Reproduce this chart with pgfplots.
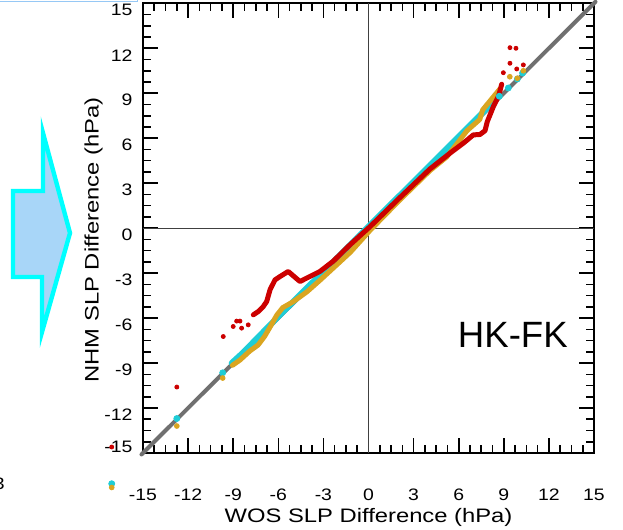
\documentclass[border=0pt]{standalone}
\usepackage{pgfplots}
\pgfplotsset{compat=1.18}
\usepackage{fontspec}
\setmainfont{Liberation Sans}
\usepackage{graphicx}
\definecolor{cy}{RGB}{30,205,215}
\definecolor{og}{RGB}{218,165,32}
\definecolor{rd}{RGB}{204,0,0}
\definecolor{dg}{RGB}{112,112,112}
\definecolor{arrowfill}{RGB}{168,214,248}
\definecolor{arrowline}{RGB}{0,255,255}
\definecolor{boxline}{RGB}{150,200,245}
\newcommand{\tfont}{\fontsize{8.3}{10}\selectfont}
\newcommand{\lfont}{\fontsize{9.75}{12}\selectfont}
\begin{document}
\begin{tikzpicture}
\useasboundingbox (0,0) rectangle (311.5pt,-265pt);
\begin{scope}[x=0.5pt,y=-0.5pt]
  \draw[boxline, line width=0.75pt] (-10,-10) rectangle (137.5,1.5);
  \draw[arrowline, line width=2.2pt, fill=arrowfill, line join=miter]
    (13,191) -- (43,191) -- (43,133) -- (70,233) -- (42,332) -- (42,277) -- (13,277) -- cycle;
  \node[anchor=east, font=\tfont, inner sep=0pt] at (5,484) {\scalebox{1.17}[1]{3}};
\end{scope}
\begin{axis}[
  at={(71.5pt,-226.5pt)}, anchor=south west,
  scale only axis, width=225.5pt, height=224.85pt,
  xmin=-15, xmax=15, ymin=-15, ymax=15,
  xtick={-15,-12,...,15}, ytick={-12,-9,...,15},
  extra y ticks={-15},
  extra y tick style={yticklabel style={yshift=6.5pt}},
  minor x tick num=3,
  minor ytick={-14.25,-13.5,-12.75,-11.25,-10.5,-9.75,-8.25,-7.5,-6.75,-5.25,-4.5,-3.75,-2.25,-1.5,-0.75,0.75,1.5,2.25,3.75,4.5,5.25,6.75,7.5,8.25,9.75,10.5,11.25,12.75,13.5,14.25},
  tick align=inside,
  major tick length=7.5pt, minor tick length=4pt,
  every tick/.style={black, line width=0.8pt},
  axis line style={line width=1pt, black},
  xtick pos=both, ytick pos=both,
  xticklabel pos=left, yticklabel pos=left,
  /pgf/number format/assume math mode=true,
  xticklabel={\scalebox{1.17}[1]{\pgfmathprintnumber{\tick}}},
  yticklabel={\scalebox{1.17}[1]{\pgfmathprintnumber{\tick}}},
  ticklabel style={font=\tfont},
  xticklabel style={anchor=center, yshift=-21pt},
  yticklabel style={anchor=east, xshift=-1.75pt, yshift=-3.5pt},
  xlabel={\scalebox{1.22}[1]{WOS SLP Difference (hPa)}},
  ylabel={\scalebox{1.22}[1]{NHM SLP Difference (hPa)}},
  label style={font=\lfont},
  xlabel style={at={([yshift=-32pt]axis description cs:0.5,0)}, anchor=center},
  ylabel style={at={([xshift=-24.75pt,yshift=-5.85pt]axis description cs:0,0.5)}, anchor=center},
  clip=false,
]
% zero lines
\addplot[black!75, line width=0.5pt] coordinates {(0,-15) (0,15)};
\addplot[black!75, line width=0.5pt] coordinates {(-15,0) (15,0)};
% one-to-one line
\addplot[dg, line width=2pt, line cap=round] coordinates {(-15.1,-15.1) (15.1,15.1)};
% cyan series
\addplot[cy, line width=3pt, line cap=round, line join=round] coordinates {
(-9.1,-9.0) (-8.5,-8.45) (-7.9,-7.85) (-6,-5.9) (-4,-3.9) (-2,-1.9) (0,0.1) (2,2.1) (4,4.1) (6,6.1) (8.3,8.4)};
\addplot[only marks, mark=*, mark size=1.5pt, cy, mark options={draw=none, fill=cy}] coordinates {
(-12.75,-12.7) (-9.7,-9.65) (8.7,8.8) (9.3,9.35) (9.9,9.95) (10.25,10.35) (-17.08,-17.05)};
% orange series
\addplot[og, line width=2.5pt, line cap=round, line join=round] coordinates {
(-9.05,-9.15) (-8.55,-8.8) (-7.9,-8.2) (-7.35,-7.8) (-6.9,-7.2) (-6.55,-6.6) (-6.1,-5.8) (-5.7,-5.3) (-5.0,-4.9) (-4.1,-4.25) (-3.2,-3.45) (-1.9,-2.25) (-1.2,-1.6) (0.1,-0.15) (2.1,1.9) (4.1,3.85) (5.2,4.75) (5.9,5.65) (6.55,6.5) (7.4,7.25) (7.6,7.9) (8.3,8.75) (8.75,9.3)};
\addplot[only marks, mark=*, mark size=1.2pt, og, mark options={draw=none, fill=og}] coordinates {
(-12.75,-13.2) (-9.7,-10.0) (9.4,10.1) (9.9,10.0) (10.3,10.5) (-17.08,-17.3)};
% red series
\addplot[rd, line width=2.5pt, line cap=round, line join=round] coordinates {
(-7.66,-5.78) (-7.33,-5.56) (-7.0,-5.23) (-6.77,-4.89) (-6.55,-4.11) (-6.22,-3.45) (-5.89,-3.23) (-5.34,-2.89) (-4.56,-3.56) (-4.11,-3.33) (-3.23,-2.89) (-2.34,-2.2) (-1.23,-1.11) (0.1,0.1) (2.1,2.05) (4.09,3.95) (5.42,5.0) (6.31,5.67) (6.97,6.22) (7.42,6.25) (7.75,6.5) (7.9,7.1) (8.3,8.1) (8.65,8.8) (8.86,9.6)};
\addplot[only marks, mark=*, mark size=1pt, rd, mark options={draw=none, fill=rd}] coordinates {
(-12.75,-10.6) (-9.66,-7.23) (-9.0,-6.56) (-8.77,-6.2) (-8.55,-6.2) (-8.44,-6.67) (-8.0,-6.45) (8.97,10.37) (9.41,11.0) (9.41,12.04) (9.81,12.0) (9.86,10.62) (10.3,10.89) (-17.08,-14.6)};
\node[font=\fontsize{18.3}{20}\selectfont] at (axis cs:9.6,-7.15) {HK-FK};
\end{axis}
\end{tikzpicture}
\end{document}
